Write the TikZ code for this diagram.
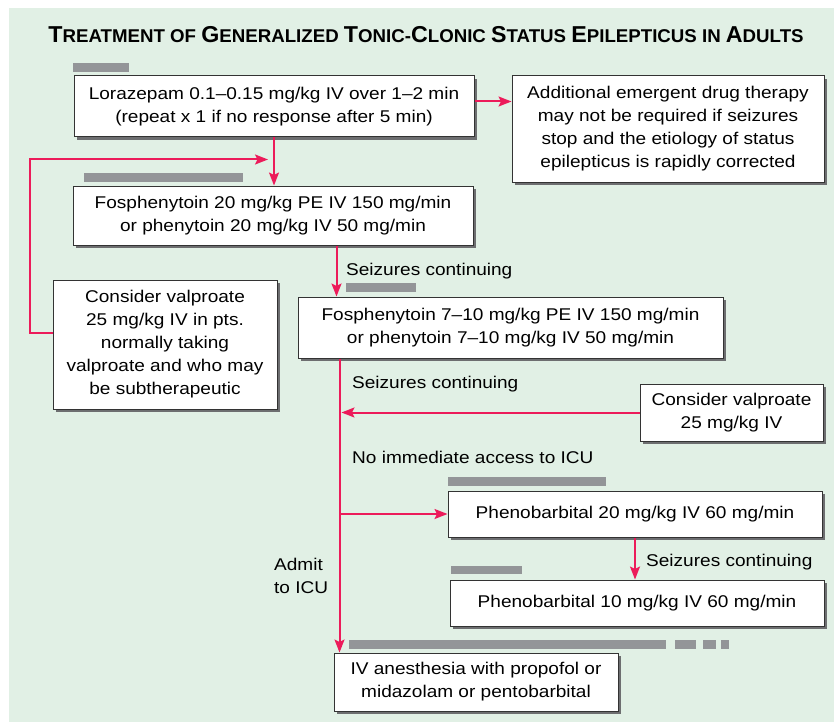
\documentclass[tikz,border=0pt]{standalone}
\usepackage{fontspec}
\setmainfont{Liberation Sans}[FakeStretch=1.12]
\newfontfamily\titlefont{Liberation Sans}[FakeStretch=1.01]
\usepackage{tikz}
\usetikzlibrary{arrows.meta, positioning, shadows}
\definecolor{panel}{HTML}{E1F0E5}
\definecolor{flowred}{HTML}{EC1B5A}
\definecolor{bargray}{HTML}{939598}
\definecolor{edge}{HTML}{333333}
\definecolor{shade}{HTML}{6D6E70}
\newcommand{\tcap}[1]{{\fontsize{23}{23}\selectfont #1}}

\begin{document}
\begin{tikzpicture}[x=1pt, y=-1pt, font=\fontsize{17}{23}\selectfont,
  box/.style={draw=edge, fill=white, line width=1pt, align=center, inner sep=0pt,
    drop shadow={shadow xshift=3pt, shadow yshift=-3pt, fill=shade, opacity=1}},
  flow/.style={draw=flowred, line width=2pt, -{Stealth[length=13pt, width=10pt, inset=2.5pt]}},
  lab/.style={anchor=base west, inner sep=0pt},
  bar/.style={fill=bargray}]
  \useasboundingbox (0,0) rectangle (834,722);
  \fill[panel] (9,8) rectangle (834,722);

  % title
  \node[anchor=base, font=\titlefont\bfseries\fontsize{18.5}{20}\selectfont] (title) at (426,43)
    {\tcap{T}REATMENT OF \tcap{G}ENERALIZED \tcap{T}ONIC-\tcap{C}LONIC \tcap{S}TATUS \tcap{E}PILEPTICUS IN \tcap{A}DULTS};

  % gray bars
  \fill[bar] (73,63) rectangle (129,72);
  \fill[bar] (84,173) rectangle (243,182);
  \fill[bar] (346,283) rectangle (416,292);
  \fill[bar] (448,477) rectangle (606,486);
  \fill[bar] (451,566) rectangle (522,574);
  \fill[bar] (349,640) rectangle (666,649);
  \fill[bar] (675,640) rectangle (696,649);
  \fill[bar] (703,640) rectangle (716,649);
  \fill[bar] (721,640) rectangle (729,649);

  % boxes
  \node[box, minimum width=400pt, minimum height=61pt] (lora) at (274,106.5)
    {Lorazepam 0.1--0.15 mg/kg IV over 1--2 min\\(repeat x 1 if no response after 5 min)};
  \node[box, minimum width=312pt, minimum height=106pt] (addl) at (668,129)
    {Additional emergent drug therapy\\may not be required if seizures\\stop and the etiology of status\\epilepticus is rapidly corrected};
  \node[box, minimum width=400pt, minimum height=59pt] (fos1) at (273,215.5)
    {Fosphenytoin 20 mg/kg PE IV 150 mg/min\\or phenytoin 20 mg/kg IV 50 mg/min};
  \node[box, minimum width=224pt, minimum height=129pt] (valp1) at (165,344.5)
    {Consider valproate\\25 mg/kg IV in pts.\\normally taking\\valproate and who may\\be subtherapeutic};
  \node[box, minimum width=425pt, minimum height=61pt] (fos2) at (510.5,327.5)
    {Fosphenytoin 7--10 mg/kg PE IV 150 mg/min\\or phenytoin 7--10 mg/kg IV 50 mg/min};
  \node[box, minimum width=183pt, minimum height=57pt] (valp2) at (731.5,412.5)
    {Consider valproate\\25 mg/kg IV};
  \node[box, minimum width=374pt, minimum height=46pt] (pheno1) at (635,514)
    {Phenobarbital 20 mg/kg IV 60 mg/min};
  \node[box, minimum width=374pt, minimum height=46pt] (pheno2) at (637,603)
    {Phenobarbital 10 mg/kg IV 60 mg/min};
  \node[box, minimum width=284pt, minimum height=58pt] (iv) at (476,682)
    {IV anesthesia with propofol or\\midazolam or pentobarbital};

  % labels
  \node[lab] (cont1) at (346,275) {Seizures continuing};
  \node[lab] (cont2) at (352,388) {Seizures continuing};
  \node[lab] (noicu) at (352,463) {No immediate access to ICU};
  \node[lab] (cont3) at (646,566) {Seizures continuing};
  \node[lab, align=left, anchor=north west] (admit) at (274,558) {Admit\\to ICU};

  % connectors
  \coordinate (loopup) at (30,159.5);
  \coordinate (loopin) at (268,159.5);
  \coordinate (drop) at ([xshift=264pt]fos1.south west);
  \coordinate (trunk) at ([xshift=42pt]fos2.south west);
  \draw[flow] ([yshift=5pt]lora.east) -- ([yshift=5pt]lora.east -| addl.west);
  \draw[flow] (lora.south) -- (lora.south |- fos1.north);
  \draw[flow] ([yshift=11.5pt]valp1.west) -| (loopup) -- (loopin);
  \draw[flow] (drop) -- (drop |- fos2.north);
  \draw[flow] (trunk) -- (trunk |- iv.north);
  \draw[flow, shorten >=2pt] (valp2.west) -- (valp2.west -| trunk);
  \draw[flow] (pheno1.west -| trunk) -- (pheno1.west);
  \draw[flow] (pheno1.south) -- (pheno1.south |- pheno2.north);
\end{tikzpicture}
\end{document}
